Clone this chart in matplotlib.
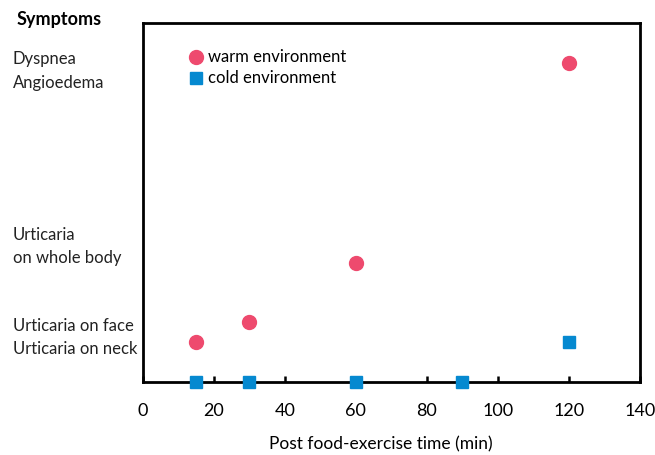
import matplotlib
matplotlib.use("Agg")
import matplotlib.pyplot as plt
import matplotlib.transforms as mtransforms

plt.rcParams['font.family'] = ['Lato', 'DejaVu Sans']

# Symptom level scale: 2 = neck, 3 = face, 6 = whole body, 16 = dyspnea/angioedema
warm_time = [15, 30, 60, 120]
warm_level = [2, 3, 6, 16]
cold_time = [15, 30, 60, 90, 120]
cold_level = [0, 0, 0, 0, 2]

symptom_labels = ["Dyspnea\nAngioedema", "Urticaria\non whole body",
                  "Urticaria on face\nUrticaria on neck"]
symptom_label_y = [15.6, 6.8, 2.25]

x_ticks = [0, 20, 40, 60, 80, 100, 120, 140]

fig = plt.figure(figsize=(6.55, 4.55), dpi=100)
ax = fig.add_axes([0.218, 0.160, 0.759, 0.789])

red = "#ee4a6e"
blue = "#0589d0"
ax.plot(warm_time, warm_level, 'o', color=red, markersize=10, label="warm environment",
        clip_on=False, zorder=5)
ax.plot(cold_time, cold_level, 's', color=blue, markersize=8.5, label="cold environment",
        clip_on=False, zorder=5)

ax.set_xlim(0, 140)
ax.set_ylim(0, 18)
ax.set_xticks(x_ticks)
ax.set_yticks([])
ax.tick_params(axis='x', direction='in', length=4, width=1.8, labelsize=13, pad=15)
for s in ax.spines.values():
    s.set_linewidth(2)
ax.set_xlabel("Post food-exercise time (min)", fontsize=12.5)
ax.xaxis.set_label_coords(0.478, -0.152)

trans = mtransforms.blended_transform_factory(ax.transAxes, ax.transData)
for lab, y in zip(symptom_labels, symptom_label_y):
    ax.text(-0.262, y, lab, transform=trans, ha='left', va='center', fontsize=12,
            linespacing=1.55, color="#222222")
ax.text(-0.254, 18.2, "Symptoms", transform=trans, ha='left', va='center',
        fontsize=13, fontweight='bold')

ax.legend(loc='upper left', bbox_to_anchor=(0.07, 0.95), frameon=False, fontsize=12,
          handletextpad=0.1, labelspacing=0.3, handlelength=1.2, borderpad=0)

fig.savefig("out.png", dpi=100)
